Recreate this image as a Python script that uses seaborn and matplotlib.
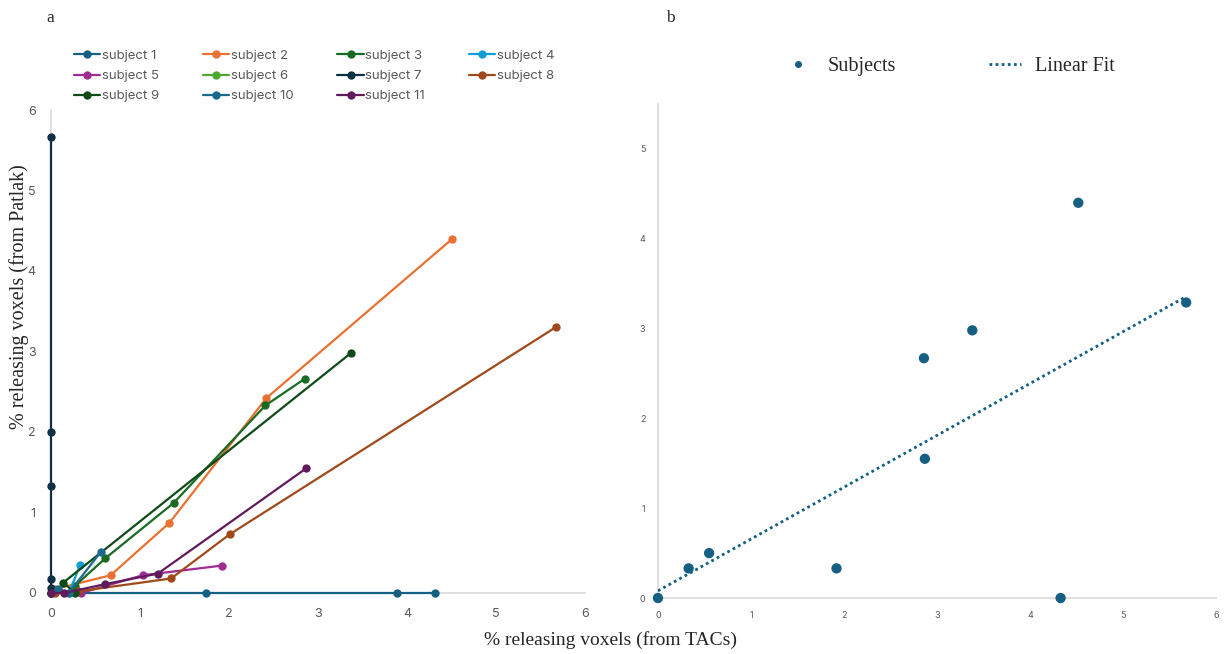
import pandas as pd
import numpy as np
import matplotlib
matplotlib.use("Agg")
import matplotlib.pyplot as plt
import seaborn as sns

sns.set_style("white")
plt.rcParams["font.family"] = ["Inter", "DejaVu Sans"]

# ---- panel a: per-subject points (TACs vs Patlak) ----
subjects = ["subject 1", "subject 2", "subject 3", "subject 4", "subject 5", "subject 6",
            "subject 7", "subject 8", "subject 9", "subject 10", "subject 11"]
tac_x = [
    [0.0, 1.74, 3.89, 4.32],
    [0.05, 0.67, 1.33, 2.42, 4.51],
    [0.27, 0.61, 1.38, 2.41, 2.85],
    [0.2, 0.33],
    [0.0, 0.34, 1.03, 1.92],
    [0.0, 0.05],
    [0.0, 0.0, 0.0, 0.0, 0.0, 0.0],
    [0.05, 0.3, 1.35, 2.01, 5.67],
    [0.27, 0.14, 3.37],
    [0.08, 0.2, 0.56],
    [0.0, 0.15, 0.61, 1.2, 2.87],
]
patlak_y = [
    [0.0, 0.0, 0.0, 0.0],
    [0.05, 0.22, 0.87, 2.42, 4.4],
    [0.09, 0.43, 1.12, 2.33, 2.66],
    [0.0, 0.35],
    [0.0, 0.0, 0.22, 0.34],
    [0.0, 0.02],
    [0.0, 0.06, 0.17, 1.33, 2.0, 5.67],
    [0.0, 0.02, 0.18, 0.73, 3.3],
    [0.0, 0.13, 2.98],
    [0.05, 0.0, 0.51],
    [0.0, 0.0, 0.11, 0.24, 1.55],
]
colors = ["#156082", "#E97132", "#196B24", "#0F9ED5", "#A02B93", "#4EA72E",
          "#0E2F44", "#A0491A", "#0F4A17", "#1B6A8C", "#5F1B5B"]

# ---- panel b: final values per subject ----
b_x = [0.0, 0.33, 0.55, 1.92, 2.86, 2.87, 3.38, 4.52, 4.33, 5.68]
b_y = [0.0, 0.33, 0.5, 0.33, 2.67, 1.55, 2.98, 4.4, 0.0, 3.29]

rows = []
for s, xs, ys in zip(subjects, tac_x, patlak_y):
    for i, (xv, yv) in enumerate(zip(xs, ys)):
        rows.append({"subject": s, "order": i, "tac": xv, "patlak": yv})
df = pd.DataFrame(rows)

fig = plt.figure(figsize=(12.25, 6.54), dpi=100)
ax1 = fig.add_axes([0.0416, 0.0933, 0.4359, 0.7385])
ax2 = fig.add_axes([0.5371, 0.0856, 0.4555, 0.7554])

grey = "#D9D9D9"
tick_col = "#595959"

# panel a
sns.lineplot(data=df, x="tac", y="patlak", hue="subject", units="subject",
             estimator=None, sort=False, palette=dict(zip(subjects, colors)),
             marker="o", markersize=6, markeredgewidth=0, linewidth=1.6,
             ax=ax1, legend=True)
ax1.set_xlim(0, 6)
ax1.set_ylim(0, 6)
ax1.set_xticks(range(7))
ax1.set_yticks(range(7))
ax1.set_xlabel("")
ax1.set_ylabel("")
for ax in (ax1, ax2):
    for side in ("top", "right"):
        ax.spines[side].set_visible(False)
    for side in ("left", "bottom"):
        ax.spines[side].set_color(grey)
        ax.spines[side].set_linewidth(1.2)
        ax.spines[side].set_zorder(0.5)
    for line in ax.lines:
        line.set_clip_on(False)
        line.set_zorder(3)
ax1.tick_params(axis="both", length=0, pad=11, labelsize=9, labelcolor=tick_col)

handles, labels = ax1.get_legend_handles_labels()
ax1.get_legend().remove()
order = [0, 4, 8, 1, 5, 9, 2, 6, 10, 3, 7]
fig.legend([handles[i] for i in order], [labels[i] for i in order],
           loc="upper left", bbox_to_anchor=(0.056, 0.932), ncol=4, frameon=False,
           fontsize=9.5, labelcolor=tick_col, handlelength=2.0, handletextpad=0.1,
           columnspacing=3.35, labelspacing=0.6, borderaxespad=0)

# panel b
sns.scatterplot(x=b_x, y=b_y, color="#156082", s=55, edgecolor="none", ax=ax2,
                clip_on=False, zorder=3)
sns.regplot(x=b_x, y=b_y, scatter=False, ci=None, color="#156082", ax=ax2,
            line_kws={"linestyle": (0, (1, 1.2)), "linewidth": 2})
ax2.set_xlim(0, 6)
ax2.set_ylim(0, 5.5)
ax2.set_xticks(range(7))
ax2.set_yticks(range(6))
ax2.tick_params(axis="both", length=4, width=0.8, color=grey, pad=5,
                labelsize=6.5, labelcolor=tick_col)
ax2.tick_params(axis="x", length=0, pad=9)

ax2.plot([], [], "o", color="#156082", markersize=4, label="Subjects")
ax2.plot([], [], color="#156082", linestyle=(0, (1, 1.2)), linewidth=2, label="Linear Fit")
h2, l2 = ax2.get_legend_handles_labels()
fig.legend(h2[-2:], l2[-2:], loc="center", bbox_to_anchor=(0.774, 0.898), ncol=2,
           frameon=False, prop={"family": "Liberation Serif", "size": 14.5},
           handlelength=1.6, handletextpad=0.7, columnspacing=4.6)

serif = {"family": "Liberation Serif"}
fig.text(0.498, 0.021, "% releasing voxels (from TACs)", ha="center", va="center",
         fontsize=14, **serif)
fig.text(0.0155, 0.546, "% releasing voxels (from Patlak)", ha="center", va="center",
         rotation=90, fontsize=14.5, **serif)
fig.text(0.041, 0.973, "a", ha="center", va="center", fontsize=12.5, **serif)
fig.text(0.547, 0.973, "b", ha="center", va="center", fontsize=12.5, **serif)

fig.savefig("out.png", dpi=100)
